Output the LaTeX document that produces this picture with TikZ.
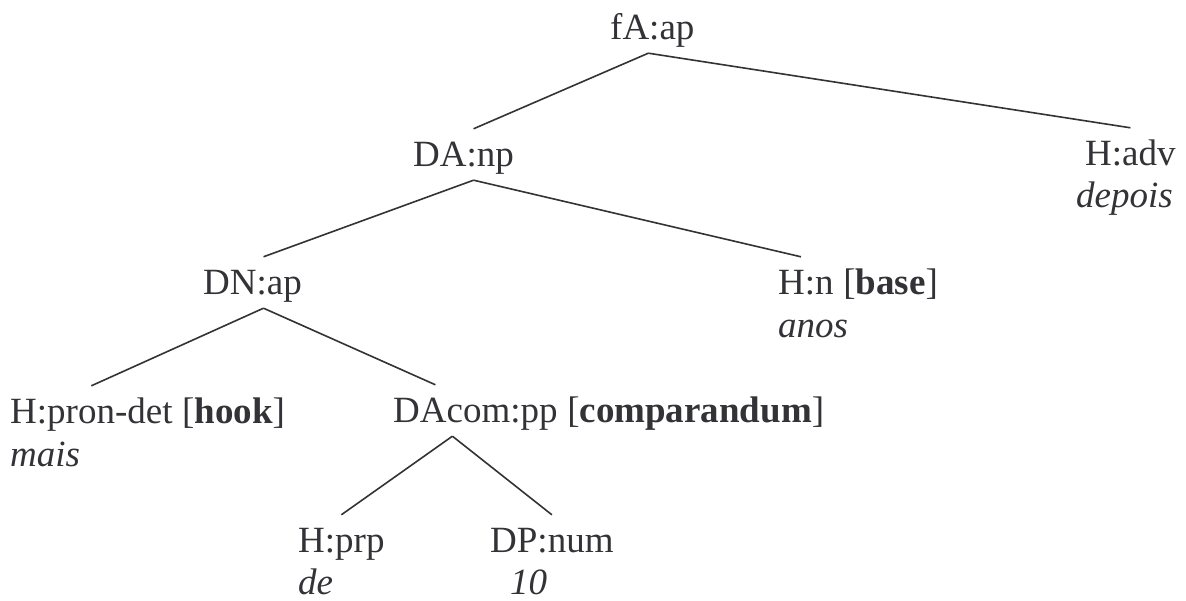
\documentclass[tikz,border=0pt]{standalone}
\usepackage{fontspec}
\setmainfont{Liberation Serif}
\usetikzlibrary{positioning}
\definecolor{ink}{RGB}{50,50,55}
\newcommand{\treefont}{\fontsize{37}{44}\selectfont}

\begin{document}
\begin{tikzpicture}[x=1pt,y=1pt,
    every node/.style={text=ink,font=\treefont},
    cat/.style={inner xsep=0pt,inner ysep=1pt,text height=37pt,text depth=12pt,anchor=base west},
    tag/.style={inner sep=0pt,anchor=base west},
    word/.style={inner sep=0pt,anchor=base west,font=\treefont\itshape},
    branch/.style={draw=ink,line width=1.6pt}]
    \useasboundingbox (0,0) rectangle (1186,601);
    %% top
    \node[cat] (fA) at (610,561) {fA:ap};
    \node[cat] (DA) at (413,434) {DA:np};
    \node[cat] (Hadv) at (1085,435) {H:adv};
    \node[word] (depois) at (1076,393) {depois};
    %%
    \node[cat] (DN) at (203,306) {DN:ap};
    \node[cat] (Hn) at (778,306) {H:n};
    \node[tag] (Hntag) at ([xshift=9.25pt]Hn.base east) {[\textbf{base}]};
    \node[word] (anos) at (778,263) {anos};
    %%
    \node[cat] (Hpd) at (10,177) {H:pron-det};
    \node[tag] (Hpdtag) at ([xshift=9.25pt]Hpd.base east) {[\textbf{hook}]};
    \node[word] (mais) at (10,134) {mais};
    \node[cat] (DAc) at (393,178) {DAcom:pp};
    \node[tag] (DActag) at ([xshift=9.25pt]DAc.base east) {[\textbf{comparandum}]};
    %% bottom
    \node[cat] (Hprp) at (298,48) {H:prp};
    \node[word] (de) at (298,6) {de};
    \node[cat] (DPn) at (490,48) {DP:num};
    \node[word] (ten) at (510,6) {10};
    %% branches
    \draw[branch] ([xshift=-4pt]fA.south) -- ([xshift=10pt]DA.north);
    \draw[branch] ([xshift=-4pt]fA.south) -- (Hadv.north);
    \draw[branch] ([xshift=10pt]DA.south) -- ([xshift=11pt]DN.north);
    \draw[branch] ([xshift=10pt]DA.south) -- ([xshift=-5pt]Hn.north);
    \draw[branch] ([xshift=11pt]DN.south) -- (Hpd.north);
    \draw[branch] ([xshift=11pt]DN.south) -- ([xshift=-40pt]DAc.north);
    \draw[branch] ([xshift=-23pt]DAc.south) -- (Hprp.north);
    \draw[branch] ([xshift=-23pt]DAc.south) -- (DPn.north);
\end{tikzpicture}
\end{document}
